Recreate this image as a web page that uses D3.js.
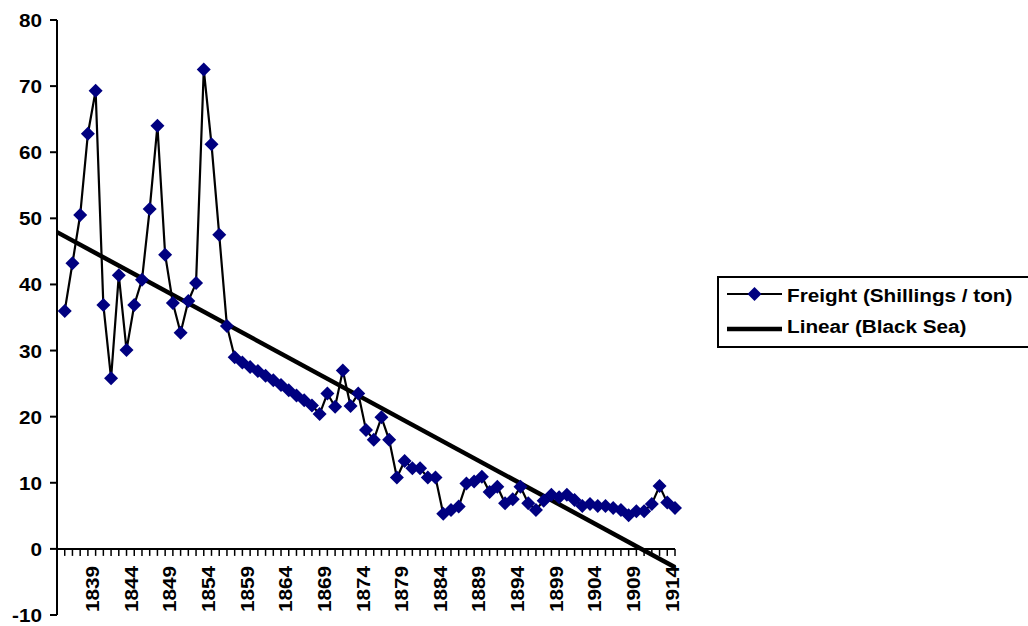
<!DOCTYPE html>
<html>
<head>
<meta charset="utf-8">
<script src="https://cdn.jsdelivr.net/npm/d3@7"></script>
<style>
  html, body { margin: 0; padding: 0; background: #fff; }
  svg { display: block; font-family: "Liberation Sans", Arial, Helvetica, sans-serif; }
</style>
</head>
<body>
<svg id="chart" width="1028" height="626"></svg>
<script>
// Categories: one per year (the first year has no reading)
const years = d3.range(1834, 1915);

// Freight rate, shillings per ton, 1835–1914
const freightYears = d3.range(1835, 1915);
const freight = [
  36.0, 43.2, 50.5, 62.8, 69.3, 36.9, 25.8, 41.4, 30.1, 36.9,
  40.7, 51.4, 64.0, 44.5, 37.2, 32.7, 37.5, 40.2, 72.5, 61.2,
  47.5, 33.7, 29.0, 28.2, 27.5, 26.9, 26.2, 25.5, 24.8, 24.0,
  23.2, 22.5, 21.7, 20.4, 23.5, 21.5, 27.0, 21.6, 23.5, 18.0,
  16.5, 19.9, 16.5, 10.8, 13.3, 12.2, 12.2, 10.8, 10.8, 5.3,
  5.9, 6.4, 9.9, 10.2, 10.9, 8.6, 9.4, 6.9, 7.5, 9.4,
  6.9, 5.9, 7.3, 8.2, 7.8, 8.2, 7.4, 6.5, 6.8, 6.5,
  6.5, 6.2, 5.9, 5.1, 5.7, 5.7, 6.8, 9.5, 7.0, 6.2
];

// Axis ticks and labels
const yTicks = d3.range(-10, 81, 10);
const labelYears = d3.range(1839, 1915, 5);

const seriesName = "Freight (Shillings / ton)";
const trendName = "Linear (Black Sea)";

const svg = d3.select("#chart");

const x = d3.scalePoint().domain(years).range([57, 675]);
const y = d3.scaleLinear().domain([-10, 80]).range([615, 20]);

const points = freightYears.map((yr, i) => ({ year: yr, value: freight[i] }));

// Least-squares linear trend over the category index
const idx = points.map(p => years.indexOf(p.year));
const mx = d3.mean(idx), my = d3.mean(points, p => p.value);
const slope = d3.sum(points, (p, i) => (idx[i] - mx) * (p.value - my)) /
              d3.sum(idx, k => (k - mx) * (k - mx));
const icpt = my - slope * mx;
const trend = [years[0], years[years.length - 1]].map(yr => ({
  year: yr, value: icpt + slope * years.indexOf(yr)
}));

const FS = 18.5, STRETCH = 1.12;

// Value axis
const gy = svg.append("g").attr("transform", "translate(57,0)");
gy.append("line").attr("x1", 0).attr("x2", 0)
  .attr("y1", y(80)).attr("y2", y(-10))
  .attr("stroke", "#000").attr("stroke-width", 2);
gy.selectAll("line.tick").data(yTicks).join("line")
  .attr("class", "tick")
  .attr("x1", -7).attr("x2", 0)
  .attr("y1", d => y(d)).attr("y2", d => y(d))
  .attr("stroke", "#000").attr("stroke-width", 2);
gy.selectAll("text").data(yTicks).join("text")
  .attr("transform", d => `translate(-15,${y(d) + 7}) scale(${STRETCH},1)`)
  .attr("text-anchor", "end")
  .attr("font-size", FS).attr("font-weight", "bold")
  .text(d => d);

// Category axis along the zero line
const gx = svg.append("g").attr("transform", `translate(0,${y(0)})`);
gx.append("line").attr("x1", x(years[0])).attr("x2", x(years[years.length - 1]))
  .attr("y1", 0).attr("y2", 0)
  .attr("stroke", "#000").attr("stroke-width", 2);
gx.selectAll("line.tick").data(years).join("line")
  .attr("class", "tick")
  .attr("x1", d => x(d)).attr("x2", d => x(d))
  .attr("y1", 0).attr("y2", 7)
  .attr("stroke", "#000").attr("stroke-width", 1.5);
gx.selectAll("text").data(labelYears).join("text")
  .attr("transform", d => `translate(${x(d) + 3.5},17) rotate(-90) scale(${STRETCH},1)`)
  .attr("text-anchor", "end")
  .attr("font-size", FS).attr("font-weight", "bold")
  .text(d => d);

// Trend line
svg.append("path").datum(trend)
  .attr("d", d3.line().x(d => x(d.year)).y(d => y(d.value)))
  .attr("fill", "none").attr("stroke", "#000").attr("stroke-width", 4.5);

// Series line and markers
svg.append("path").datum(points)
  .attr("d", d3.line().x(d => x(d.year)).y(d => y(d.value)))
  .attr("fill", "none").attr("stroke", "#000").attr("stroke-width", 2.2);

const diamond = d3.symbol().type(d3.symbolSquare).size(98);
svg.selectAll("path.mark").data(points).join("path")
  .attr("class", "mark")
  .attr("d", diamond)
  .attr("transform", d => `translate(${x(d.year)},${y(d.value)}) rotate(45)`)
  .attr("fill", "#000080");

// Legend
const lg = svg.append("g");
lg.append("rect").attr("x", 718).attr("y", 277).attr("width", 330).attr("height", 70)
  .attr("fill", "#fff").attr("stroke", "#000").attr("stroke-width", 2);
lg.append("line").attr("x1", 727).attr("x2", 782).attr("y1", 294).attr("y2", 294)
  .attr("stroke", "#000").attr("stroke-width", 2.2);
lg.append("path").attr("d", diamond)
  .attr("transform", "translate(754.5,294) rotate(45)").attr("fill", "#000080");
lg.append("line").attr("x1", 727).attr("x2", 782).attr("y1", 329).attr("y2", 329)
  .attr("stroke", "#000").attr("stroke-width", 4.5);
lg.append("text").attr("transform", `translate(787,301.5) scale(${STRETCH},1)`)
  .attr("font-size", FS).attr("font-weight", "bold").text(seriesName);
lg.append("text").attr("transform", `translate(787,332.5) scale(${STRETCH},1)`)
  .attr("font-size", FS).attr("font-weight", "bold").text(trendName);
</script>
</body>
</html>
